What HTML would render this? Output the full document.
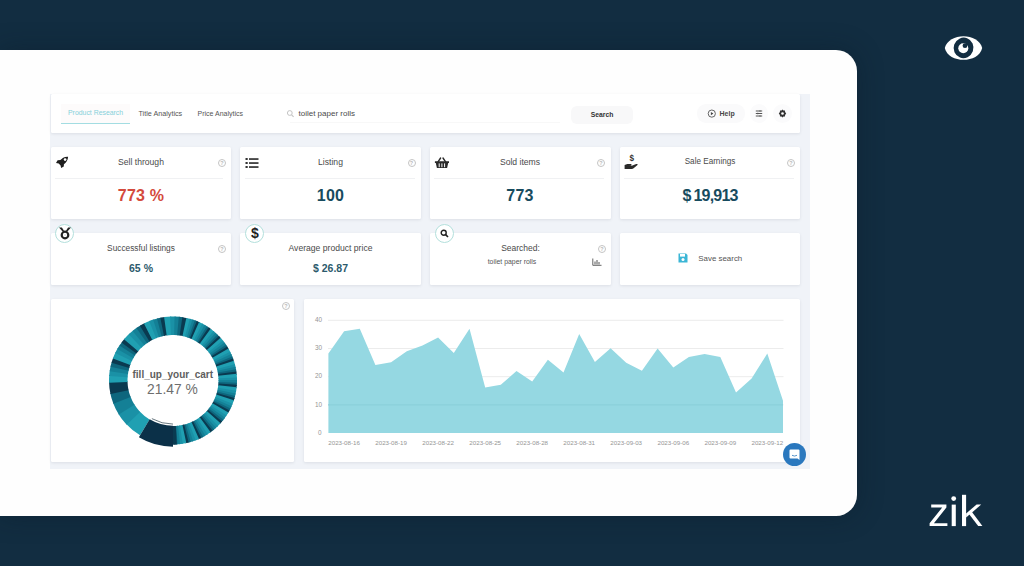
<!DOCTYPE html>
<html><head><meta charset="utf-8">
<style>
*{margin:0;padding:0;box-sizing:border-box}
html,body{width:1024px;height:566px;overflow:hidden}
body{background:#122d41;font-family:"Liberation Sans",sans-serif;position:relative}
.abs{position:absolute}
#panel{left:0;top:50px;width:857px;height:466px;background:#fefefe;border-radius:0 21px 21px 0;box-shadow:0 0 26px rgba(10,22,34,.35)}
#dash{left:50px;top:94px;width:759.5px;height:375px;background:#f0f3f8}
.card{position:absolute;background:#fff;border-radius:1.5px;box-shadow:0 1px 3px rgba(40,50,70,.10)}
.t{position:absolute;white-space:nowrap;line-height:1}
.ctr{transform:translate(-50%,-50%)}
.q{position:absolute;width:8px;height:8px;border:1px solid #c4c4c4;border-radius:50%;font-size:5.5px;color:#bbb;text-align:center;line-height:6px;font-weight:bold}
.title{font-size:8.6px;color:#4a4a4a}
.val1{font-size:16px;font-weight:bold;color:#174b5e;letter-spacing:0.2px}
.val2{font-size:10.5px;font-weight:bold;color:#2c5a6c}
.div{position:absolute;height:1px;background:#f0f1f3}
.circ{position:absolute;width:19px;height:19px;border:1px solid #b3e0dc;border-radius:50%;background:#fff}
.tab{font-size:7.2px;color:#555}
.xl{font-size:6.2px;color:#959595}
.yl{font-size:6.4px;color:#959595}
</style></head><body>
<div id="panel" class="abs"></div>
<div id="dash" class="abs"></div>

<!-- header -->
<div class="card" style="left:50.5px;top:94px;width:749.5px;height:39px"></div>
<div class="abs" style="left:61px;top:104px;width:69px;height:20px;background:#fdfbfb"></div>
<div class="abs" style="left:61px;top:122.5px;width:69px;height:1.3px;background:#a3dde2"></div>
<div class="t tab" style="left:68px;top:110px;color:#86d0da;font-size:6.9px">Product Research</div>
<div class="t tab" style="left:138.5px;top:109.5px">Title Analytics</div>
<div class="t tab" style="left:197.5px;top:109.5px;font-size:7px">Price Analytics</div>
<svg class="abs" style="left:286px;top:109px" width="9" height="9" viewBox="0 0 9 9"><circle cx="3.8" cy="4" r="2.4" fill="none" stroke="#c4c4c4" stroke-width="1"/><path d="M5.6 5.8 L7.6 7.8" stroke="#c4c4c4" stroke-width="1.2"/></svg>
<div class="t" style="left:298.5px;top:110px;font-size:8px;color:#4a4a4a">toilet paper rolls</div>
<div class="abs" style="left:290px;top:122px;width:270px;height:1px;background:#f8f8f8"></div>
<div class="abs" style="left:571px;top:105.5px;width:62px;height:18px;background:#f8f8f9;border-radius:6px"></div>
<div class="t ctr" style="left:602px;top:114.5px;font-size:6.8px;font-weight:bold;color:#333">Search</div>
<div class="abs" style="left:697px;top:104px;width:48px;height:19px;background:#fafafb;border-radius:9px"></div>
<svg class="abs" style="left:707px;top:109px" width="9" height="9" viewBox="0 0 9 9"><circle cx="4.8" cy="4.6" r="3.6" fill="none" stroke="#555" stroke-width="0.9"/><path d="M3.9 3 L6.4 4.6 L3.9 6.2Z" fill="#444"/></svg>
<div class="t" style="left:719.5px;top:110px;font-size:7px;font-weight:bold;color:#484848">Help</div>
<div class="abs" style="left:750px;top:104px;width:18px;height:19px;background:#fbfbfc;border-radius:50%"></div>
<svg class="abs" style="left:755px;top:110px" width="8" height="7" viewBox="0 0 8 7"><path d="M0.8 1H7.2M0.8 3.5H7.2M0.8 6H7.2" stroke="#555" stroke-width="1"/><path d="M5 0.2V1.8M2.8 2.7V4.3M5 5.2V6.8" stroke="#555" stroke-width="0.8"/></svg>
<div class="abs" style="left:773px;top:104px;width:19px;height:19px;background:#fbfbfc;border-radius:50%"></div>
<svg class="abs" style="left:778px;top:109px" width="9" height="9" viewBox="0 0 9 9"><path d="M4.5 0.6 L5.5 1.6 L7 1.4 L7.1 2.9 L8.2 4.5 L7.1 6.1 L7 7.6 L5.5 7.4 L4.5 8.4 L3.5 7.4 L2 7.6 L1.9 6.1 L0.8 4.5 L1.9 2.9 L2 1.4 L3.5 1.6Z" fill="#333"/><circle cx="4.5" cy="4.5" r="1.3" fill="#fff"/></svg>

<!-- row 1 cards -->
<div class="card" style="left:51px;top:147px;width:180px;height:72px"></div>
<div class="card" style="left:239.8px;top:147px;width:181.2px;height:72px"></div>
<div class="card" style="left:430px;top:147px;width:180.5px;height:72px"></div>
<div class="card" style="left:620px;top:147px;width:180px;height:72px"></div>
<div class="div" style="left:55px;top:177.5px;width:168px"></div>
<div class="div" style="left:245px;top:177.5px;width:170px"></div>
<div class="div" style="left:434px;top:177.5px;width:170px"></div>
<div class="div" style="left:624px;top:177.5px;width:170px"></div>

<div class="t title ctr" style="left:141px;top:162px">Sell through</div>
<div class="t title ctr" style="left:330.5px;top:162px">Listing</div>
<div class="t title ctr" style="left:520px;top:162px">Sold items</div>
<div class="t title ctr" style="left:710px;top:162px;font-size:8.15px">Sale Earnings</div>
<div class="t val1 ctr" style="left:141px;top:196px;color:#d44a3c">773 %</div>
<div class="t val1 ctr" style="left:330.5px;top:196px">100</div>
<div class="t val1 ctr" style="left:520px;top:196px">773</div>
<div class="t val1 ctr" style="left:710px;top:196px">$<span style="margin-left:2px;letter-spacing:-0.8px">19,913</span></div>
<div class="q" style="left:218px;top:158.5px">?</div>
<div class="q" style="left:407.5px;top:158.5px">?</div>
<div class="q" style="left:597px;top:158.5px">?</div>
<div class="q" style="left:787px;top:158.5px">?</div>

<!-- rocket -->
<svg class="abs" style="left:55px;top:155px" width="14" height="14" viewBox="0 0 14 14"><path d="M13.1 1.7 C9.6 1.4 6.9 3.2 5.4 5.1 L2.6 5.2 L1 7.9 L3.7 8.4 L5.6 10.4 L6.1 13.1 L8.8 11.6 L8.9 9.3 C11 7.8 12.9 5.3 13.1 1.7Z" fill="#1e1e1e"/><circle cx="10.1" cy="4.6" r="1.35" fill="#fff"/></svg>
<!-- list -->
<svg class="abs" style="left:244.8px;top:157px" width="14" height="12" viewBox="0 0 14 12"><rect x="0.5" y="1" width="2.2" height="2" fill="#333"/><rect x="0.5" y="5" width="2.2" height="2" fill="#333"/><rect x="0.5" y="9" width="2.2" height="2" fill="#333"/><rect x="4" y="1.2" width="9.5" height="1.7" fill="#333"/><rect x="4" y="5.2" width="9.5" height="1.7" fill="#333"/><rect x="4" y="9.2" width="9.5" height="1.7" fill="#333"/></svg>
<!-- basket -->
<svg class="abs" style="left:434px;top:155px" width="16" height="15" viewBox="0 0 16 15"><path d="M6.6 3 L4 6.8 M9 3 L11.6 6.8" fill="none" stroke="#2a2a2a" stroke-width="1.4" stroke-linecap="round"/><path d="M0.9 6.2 H15 V7.9 H14.2 L13.1 13.1 H2.9 L1.8 7.9 H0.9Z" fill="#2a2a2a"/><path d="M5.2 8.4 V12.2 M7.9 8.4 V12.2 M10.6 8.4 V12.2" stroke="#fff" stroke-width="1"/></svg>
<!-- hand dollar -->
<svg class="abs" style="left:623px;top:154px" width="16" height="16" viewBox="0 0 16 16"><text x="8.7" y="7.4" font-size="8.2" font-weight="bold" fill="#333" text-anchor="middle" font-family="Liberation Sans">$</text><path d="M1.6 11.1 L4.4 10.1 L7.8 10.1 C8.7 10.1 8.9 11.4 8 11.5 L5.8 11.6 L8.8 11.8 L13.2 10.1 C14.1 9.7 15 10.4 14.5 11 L10.6 14.2 C10.2 14.6 9.5 15 8.8 15 L1.6 15 Z" fill="#2a2a2a"/></svg>

<!-- row 2 cards -->
<div class="card" style="left:51px;top:233px;width:180px;height:52px"></div>
<div class="card" style="left:239.8px;top:233px;width:181.2px;height:52px"></div>
<div class="card" style="left:430px;top:233px;width:180.5px;height:52px"></div>
<div class="card" style="left:620px;top:233px;width:180px;height:52px"></div>
<div class="circ" style="left:55px;top:223.5px"></div>
<div class="circ" style="left:245px;top:223.5px"></div>
<div class="circ" style="left:434.5px;top:223.5px"></div>
<!-- medal -->
<svg class="abs" style="left:58px;top:226px" width="14" height="14" viewBox="0 0 14 14"><path d="M1 1.4 L3.9 1.4 L6 4.8 L4.6 5.4Z M13 1.4 L10.1 1.4 L8 4.8 L9.4 5.4Z" fill="#222"/><circle cx="7" cy="9" r="3.3" fill="none" stroke="#222" stroke-width="2.2"/><path d="M7 7.6 L7.45 8.5 L8.4 8.6 L7.7 9.25 L7.9 10.2 L7 9.75 L6.1 10.2 L6.3 9.25 L5.6 8.6 L6.55 8.5Z" fill="#e5e5e5"/></svg>
<!-- dollar -->
<div class="t ctr" style="left:255px;top:233px;font-size:14px;font-weight:bold;color:#222">$</div>
<!-- search -->
<svg class="abs" style="left:440px;top:229px" width="9" height="9" viewBox="0 0 9 9"><circle cx="3.7" cy="3.7" r="2.5" fill="none" stroke="#222" stroke-width="1.4"/><path d="M5.6 5.6 L8 8" stroke="#222" stroke-width="1.6"/></svg>

<div class="t title ctr" style="left:141px;top:248px;font-size:8.3px">Successful listings</div>
<div class="t title ctr" style="left:330.5px;top:248px">Average product price</div>
<div class="t ctr" style="left:520.5px;top:248px;font-size:8.5px;color:#4a4a4a">Searched:</div>
<div class="t ctr" style="left:512px;top:262px;font-size:6.9px;color:#555">toilet paper rolls</div>
<svg class="abs" style="left:592px;top:258px" width="10" height="8" viewBox="0 0 10 8"><path d="M0.8 0.5 V7.3 H9.5" fill="none" stroke="#555" stroke-width="0.9"/><path d="M3 6.5V3.5M5 6.5V2M7 6.5V4" stroke="#555" stroke-width="1"/></svg>
<div class="t val2 ctr" style="left:141px;top:268px">65 %</div>
<div class="t val2 ctr" style="left:330.5px;top:268px">$ 26.87</div>
<div class="q" style="left:218px;top:245px">?</div>
<div class="q" style="left:598px;top:245px">?</div>
<!-- floppy -->
<svg class="abs" style="left:677.5px;top:253.3px" width="10" height="10" viewBox="0 0 10 10"><path d="M0.5 0.5 H8 L9.5 2 V9.5 H0.5Z" fill="#3bb6d6"/><rect x="2" y="1" width="5" height="2.6" fill="#fff"/><circle cx="5" cy="6.6" r="1.5" fill="#fff"/></svg>
<div class="t ctr" style="left:720.3px;top:258.5px;font-size:7.9px;color:#555">Save search</div>

<!-- bottom row -->
<div class="card" style="left:51px;top:299px;width:243px;height:163px"></div>
<div class="card" style="left:304px;top:299px;width:496px;height:163px"></div>
<div class="q" style="left:282px;top:301.8px">?</div>

<svg class="abs" style="left:0;top:0" width="1024" height="566" viewBox="0 0 1024 566">
<g>
<line x1="328" y1="320.3" x2="783.5" y2="320.3" stroke="#ececec" stroke-width="1"/>
<line x1="328" y1="348.5" x2="783.5" y2="348.5" stroke="#ececec" stroke-width="1"/>
<line x1="328" y1="376.7" x2="783.5" y2="376.7" stroke="#ececec" stroke-width="1"/>
<line x1="328" y1="404.9" x2="783.5" y2="404.9" stroke="#ececec" stroke-width="1"/>
<path d="M328.4 433.0 L328.4 353.6 L344.1 331.3 L359.8 328.8 L375.4 365.1 L391.1 362.3 L406.8 351.3 L422.5 345.6 L438.1 337.5 L453.8 352.9 L469.5 328.8 L485.2 387.6 L500.8 384.8 L516.5 371.1 L532.2 381.6 L547.9 359.8 L563.5 372.4 L579.2 334.1 L594.9 361.9 L610.6 348.3 L626.2 362.8 L641.9 370.8 L657.6 348.6 L673.3 367.4 L688.9 357.1 L704.6 354.1 L720.3 357.1 L736.0 392.6 L751.6 378.4 L767.3 353.6 L783.0 400.7 L783.0 433.0 Z" fill="#95d8e2"/>
<line x1="328" y1="404.9" x2="783" y2="404.9" stroke="#89ced8" stroke-width="1"/>
</g>
<path d="M140.04 435.36 A64.00 64.00 0 0 1 125.90 423.83 L139.51 411.30 A45.50 45.50 0 0 0 149.57 419.50 Z" fill="#20a0b2"/>
<path d="M126.66 424.64 A64.00 64.00 0 0 1 118.26 413.66 L134.09 404.08 A45.50 45.50 0 0 0 140.06 411.88 Z" fill="#1a91a6"/>
<path d="M118.85 414.61 A64.00 64.00 0 0 1 113.01 402.79 L130.35 396.35 A45.50 45.50 0 0 0 134.50 404.75 Z" fill="#148096"/>
<path d="M113.40 403.83 A64.00 64.00 0 0 1 110.23 393.00 L128.38 389.38 A45.50 45.50 0 0 0 130.63 397.09 Z" fill="#0e667d"/>
<path d="M110.46 394.09 A64.00 64.00 0 0 1 109.01 381.62 L127.51 381.29 A45.50 45.50 0 0 0 128.54 390.16 Z" fill="#0a3a50"/>
<path d="M109.04 382.73 A64.00 64.00 0 0 1 109.24 374.99 L127.67 376.58 A45.50 45.50 0 0 0 127.53 382.09 Z" fill="#20a0b2"/>
<path d="M109.15 376.10 A64.00 64.00 0 0 1 109.85 370.11 L128.10 373.12 A45.50 45.50 0 0 0 127.61 377.37 Z" fill="#1a91a6"/>
<path d="M109.68 371.22 A64.00 64.00 0 0 1 110.77 365.54 L128.76 369.86 A45.50 45.50 0 0 0 127.98 373.90 Z" fill="#148096"/>
<path d="M110.52 366.63 A64.00 64.00 0 0 1 111.81 361.75 L129.50 367.17 A45.50 45.50 0 0 0 128.58 370.64 Z" fill="#0e667d"/>
<path d="M111.49 362.82 A64.00 64.00 0 0 1 113.25 357.56 L130.52 364.19 A45.50 45.50 0 0 0 129.27 367.93 Z" fill="#0a3a50"/>
<path d="M112.86 358.61 A64.00 64.00 0 0 1 115.67 352.04 L132.25 360.27 A45.50 45.50 0 0 0 130.24 364.94 Z" fill="#20a0b2"/>
<path d="M115.19 353.05 A64.00 64.00 0 0 1 117.80 348.11 L133.76 357.48 A45.50 45.50 0 0 0 131.90 360.98 Z" fill="#1a91a6"/>
<path d="M117.24 349.08 A64.00 64.00 0 0 1 120.07 344.53 L135.37 354.93 A45.50 45.50 0 0 0 133.36 358.16 Z" fill="#148096"/>
<path d="M119.45 345.46 A64.00 64.00 0 0 1 122.16 341.63 L136.85 352.86 A45.50 45.50 0 0 0 134.93 355.59 Z" fill="#0e667d"/>
<path d="M121.49 342.52 A64.00 64.00 0 0 1 124.70 338.51 L138.66 350.65 A45.50 45.50 0 0 0 136.38 353.50 Z" fill="#0a3a50"/>
<path d="M123.97 339.36 A64.00 64.00 0 0 1 129.52 333.53 L142.09 347.11 A45.50 45.50 0 0 0 138.14 351.25 Z" fill="#20a0b2"/>
<path d="M128.71 334.30 A64.00 64.00 0 0 1 133.43 330.20 L144.87 344.74 A45.50 45.50 0 0 0 141.51 347.65 Z" fill="#1a91a6"/>
<path d="M132.56 330.90 A64.00 64.00 0 0 1 137.38 327.33 L147.68 342.70 A45.50 45.50 0 0 0 144.25 345.24 Z" fill="#148096"/>
<path d="M136.46 327.96 A64.00 64.00 0 0 1 140.86 325.15 L150.15 341.15 A45.50 45.50 0 0 0 147.02 343.15 Z" fill="#0e667d"/>
<path d="M139.90 325.72 A64.00 64.00 0 0 1 144.94 322.98 L153.05 339.60 A45.50 45.50 0 0 0 149.47 341.56 Z" fill="#0a3a50"/>
<path d="M143.94 323.48 A64.00 64.00 0 0 1 150.20 320.70 L156.79 337.99 A45.50 45.50 0 0 0 152.34 339.96 Z" fill="#20a0b2"/>
<path d="M149.16 321.11 A64.00 64.00 0 0 1 154.21 319.32 L159.64 337.00 A45.50 45.50 0 0 0 156.05 338.27 Z" fill="#1a91a6"/>
<path d="M153.15 319.66 A64.00 64.00 0 0 1 158.10 318.26 L162.41 336.25 A45.50 45.50 0 0 0 158.89 337.24 Z" fill="#148096"/>
<path d="M157.02 318.53 A64.00 64.00 0 0 1 161.42 317.56 L164.77 335.75 A45.50 45.50 0 0 0 161.64 336.44 Z" fill="#0e667d"/>
<path d="M160.33 317.77 A64.00 64.00 0 0 1 165.20 316.98 L167.45 335.34 A45.50 45.50 0 0 0 163.99 335.90 Z" fill="#0a3a50"/>
<path d="M164.09 317.12 A64.00 64.00 0 0 1 171.21 316.52 L171.73 335.02 A45.50 45.50 0 0 0 166.67 335.44 Z" fill="#20a0b2"/>
<path d="M170.10 316.57 A64.00 64.00 0 0 1 175.68 316.56 L174.91 335.04 A45.50 45.50 0 0 0 170.94 335.05 Z" fill="#1a91a6"/>
<path d="M174.56 316.52 A64.00 64.00 0 0 1 179.91 316.87 L177.91 335.27 A45.50 45.50 0 0 0 174.11 335.01 Z" fill="#148096"/>
<path d="M178.80 316.76 A64.00 64.00 0 0 1 183.45 317.36 L180.43 335.61 A45.50 45.50 0 0 0 177.12 335.19 Z" fill="#0e667d"/>
<path d="M182.35 317.19 A64.00 64.00 0 0 1 187.40 318.14 L183.24 336.17 A45.50 45.50 0 0 0 179.65 335.49 Z" fill="#0a3a50"/>
<path d="M186.31 317.90 A64.00 64.00 0 0 1 190.90 319.05 L185.72 336.82 A45.50 45.50 0 0 0 182.46 335.99 Z" fill="#20a0b2"/>
<path d="M189.82 318.75 A64.00 64.00 0 0 1 193.46 319.86 L187.54 337.39 A45.50 45.50 0 0 0 184.96 336.60 Z" fill="#1a91a6"/>
<path d="M192.39 319.51 A64.00 64.00 0 0 1 195.85 320.72 L189.25 338.00 A45.50 45.50 0 0 0 186.79 337.14 Z" fill="#148096"/>
<path d="M194.81 320.33 A64.00 64.00 0 0 1 197.84 321.52 L190.66 338.57 A45.50 45.50 0 0 0 188.50 337.72 Z" fill="#0e667d"/>
<path d="M196.81 321.09 A64.00 64.00 0 0 1 200.05 322.50 L192.23 339.26 A45.50 45.50 0 0 0 189.93 338.27 Z" fill="#0a3a50"/>
<path d="M199.03 322.03 A64.00 64.00 0 0 1 203.28 324.12 L194.53 340.42 A45.50 45.50 0 0 0 191.51 338.93 Z" fill="#20a0b2"/>
<path d="M202.29 323.60 A64.00 64.00 0 0 1 205.62 325.44 L196.19 341.35 A45.50 45.50 0 0 0 193.83 340.05 Z" fill="#1a91a6"/>
<path d="M204.65 324.87 A64.00 64.00 0 0 1 207.78 326.78 L197.73 342.31 A45.50 45.50 0 0 0 195.50 340.95 Z" fill="#148096"/>
<path d="M206.84 326.18 A64.00 64.00 0 0 1 209.56 327.97 L198.99 343.16 A45.50 45.50 0 0 0 197.06 341.88 Z" fill="#0e667d"/>
<path d="M208.64 327.34 A64.00 64.00 0 0 1 211.52 329.39 L200.38 344.16 A45.50 45.50 0 0 0 198.34 342.71 Z" fill="#0a3a50"/>
<path d="M210.62 328.72 A64.00 64.00 0 0 1 214.34 331.65 L202.39 345.77 A45.50 45.50 0 0 0 199.74 343.69 Z" fill="#20a0b2"/>
<path d="M213.48 330.93 A64.00 64.00 0 0 1 216.35 333.42 L203.82 347.03 A45.50 45.50 0 0 0 201.78 345.26 Z" fill="#1a91a6"/>
<path d="M215.52 332.67 A64.00 64.00 0 0 1 218.19 335.18 L205.13 348.28 A45.50 45.50 0 0 0 203.23 346.50 Z" fill="#148096"/>
<path d="M217.39 334.40 A64.00 64.00 0 0 1 219.68 336.72 L206.19 349.38 A45.50 45.50 0 0 0 204.56 347.73 Z" fill="#0e667d"/>
<path d="M218.91 335.91 A64.00 64.00 0 0 1 221.30 338.51 L207.34 350.65 A45.50 45.50 0 0 0 205.64 348.80 Z" fill="#0a3a50"/>
<path d="M220.56 337.68 A64.00 64.00 0 0 1 223.60 341.31 L208.97 352.64 A45.50 45.50 0 0 0 206.81 350.05 Z" fill="#20a0b2"/>
<path d="M222.91 340.43 A64.00 64.00 0 0 1 225.19 343.46 L210.11 354.17 A45.50 45.50 0 0 0 208.48 352.01 Z" fill="#1a91a6"/>
<path d="M224.54 342.56 A64.00 64.00 0 0 1 226.63 345.57 L211.12 355.67 A45.50 45.50 0 0 0 209.64 353.53 Z" fill="#148096"/>
<path d="M226.01 344.64 A64.00 64.00 0 0 1 227.77 347.38 L211.94 356.96 A45.50 45.50 0 0 0 210.69 355.00 Z" fill="#0e667d"/>
<path d="M227.18 346.43 A64.00 64.00 0 0 1 228.98 349.47 L212.80 358.44 A45.50 45.50 0 0 0 211.52 356.28 Z" fill="#0a3a50"/>
<path d="M228.43 348.50 A64.00 64.00 0 0 1 230.64 352.69 L213.98 360.73 A45.50 45.50 0 0 0 212.40 357.75 Z" fill="#20a0b2"/>
<path d="M230.15 351.68 A64.00 64.00 0 0 1 231.75 355.12 L214.77 362.46 A45.50 45.50 0 0 0 213.63 360.01 Z" fill="#1a91a6"/>
<path d="M231.30 354.10 A64.00 64.00 0 0 1 232.72 357.48 L215.46 364.13 A45.50 45.50 0 0 0 214.45 361.73 Z" fill="#148096"/>
<path d="M232.31 356.44 A64.00 64.00 0 0 1 233.45 359.49 L215.98 365.57 A45.50 45.50 0 0 0 215.16 363.40 Z" fill="#0e667d"/>
<path d="M233.08 358.44 A64.00 64.00 0 0 1 234.20 361.79 L216.51 367.20 A45.50 45.50 0 0 0 215.71 364.82 Z" fill="#0a3a50"/>
<path d="M233.87 360.72 A64.00 64.00 0 0 1 235.16 365.28 L217.19 369.68 A45.50 45.50 0 0 0 216.27 366.44 Z" fill="#20a0b2"/>
<path d="M234.89 364.19 A64.00 64.00 0 0 1 235.75 367.89 L217.61 371.54 A45.50 45.50 0 0 0 217.00 368.91 Z" fill="#1a91a6"/>
<path d="M235.52 366.80 A64.00 64.00 0 0 1 236.20 370.40 L217.93 373.32 A45.50 45.50 0 0 0 217.45 370.76 Z" fill="#148096"/>
<path d="M236.01 369.30 A64.00 64.00 0 0 1 236.50 372.52 L218.15 374.83 A45.50 45.50 0 0 0 217.80 372.54 Z" fill="#0e667d"/>
<path d="M236.35 371.42 A64.00 64.00 0 0 1 236.76 374.92 L218.33 376.53 A45.50 45.50 0 0 0 218.04 374.04 Z" fill="#0a3a50"/>
<path d="M236.65 373.81 A64.00 64.00 0 0 1 236.97 378.53 L218.48 379.10 A45.50 45.50 0 0 0 218.25 375.74 Z" fill="#20a0b2"/>
<path d="M236.93 377.42 A64.00 64.00 0 0 1 237.00 381.21 L218.50 381.01 A45.50 45.50 0 0 0 218.45 378.31 Z" fill="#1a91a6"/>
<path d="M237.00 380.10 A64.00 64.00 0 0 1 236.92 383.76 L218.44 382.82 A45.50 45.50 0 0 0 218.50 380.21 Z" fill="#148096"/>
<path d="M236.96 382.64 A64.00 64.00 0 0 1 236.77 385.90 L218.34 384.34 A45.50 45.50 0 0 0 218.47 382.02 Z" fill="#0e667d"/>
<path d="M236.86 384.79 A64.00 64.00 0 0 1 236.52 388.30 L218.16 386.05 A45.50 45.50 0 0 0 218.40 383.55 Z" fill="#0a3a50"/>
<path d="M236.65 387.19 A64.00 64.00 0 0 1 235.98 391.88 L217.78 388.59 A45.50 45.50 0 0 0 218.25 385.26 Z" fill="#20a0b2"/>
<path d="M236.17 390.78 A64.00 64.00 0 0 1 235.45 394.50 L217.40 390.46 A45.50 45.50 0 0 0 217.91 387.81 Z" fill="#1a91a6"/>
<path d="M235.68 393.41 A64.00 64.00 0 0 1 234.84 396.98 L216.97 392.21 A45.50 45.50 0 0 0 217.56 389.68 Z" fill="#148096"/>
<path d="M235.12 395.90 A64.00 64.00 0 0 1 234.26 399.04 L216.55 393.68 A45.50 45.50 0 0 0 217.16 391.45 Z" fill="#0e667d"/>
<path d="M234.57 397.97 A64.00 64.00 0 0 1 233.51 401.34 L216.02 395.31 A45.50 45.50 0 0 0 216.77 392.92 Z" fill="#0a3a50"/>
<path d="M233.87 400.28 A64.00 64.00 0 0 1 232.24 404.72 L215.12 397.72 A45.50 45.50 0 0 0 216.27 394.56 Z" fill="#20a0b2"/>
<path d="M232.65 403.69 A64.00 64.00 0 0 1 231.17 407.18 L214.36 399.47 A45.50 45.50 0 0 0 215.41 396.98 Z" fill="#1a91a6"/>
<path d="M231.63 406.16 A64.00 64.00 0 0 1 230.06 409.48 L213.57 401.10 A45.50 45.50 0 0 0 214.68 398.74 Z" fill="#148096"/>
<path d="M230.56 408.48 A64.00 64.00 0 0 1 229.06 411.37 L212.86 402.45 A45.50 45.50 0 0 0 213.92 400.39 Z" fill="#0e667d"/>
<path d="M229.59 410.39 A64.00 64.00 0 0 1 227.86 413.46 L212.00 403.93 A45.50 45.50 0 0 0 213.23 401.75 Z" fill="#0a3a50"/>
<path d="M228.43 412.50 A64.00 64.00 0 0 1 225.91 416.51 L210.61 406.10 A45.50 45.50 0 0 0 212.40 403.25 Z" fill="#20a0b2"/>
<path d="M226.53 415.58 A64.00 64.00 0 0 1 224.35 418.69 L209.51 407.65 A45.50 45.50 0 0 0 211.06 405.44 Z" fill="#1a91a6"/>
<path d="M225.01 417.79 A64.00 64.00 0 0 1 222.79 420.71 L208.40 409.08 A45.50 45.50 0 0 0 209.98 407.01 Z" fill="#148096"/>
<path d="M223.49 419.83 A64.00 64.00 0 0 1 221.42 422.35 L207.42 410.25 A45.50 45.50 0 0 0 208.89 408.46 Z" fill="#0e667d"/>
<path d="M222.14 421.50 A64.00 64.00 0 0 1 219.81 424.15 L206.28 411.53 A45.50 45.50 0 0 0 207.94 409.65 Z" fill="#0a3a50"/>
<path d="M220.56 423.32 A64.00 64.00 0 0 1 217.26 426.72 L204.47 413.36 A45.50 45.50 0 0 0 206.81 410.95 Z" fill="#20a0b2"/>
<path d="M218.06 425.94 A64.00 64.00 0 0 1 215.29 428.54 L203.07 414.65 A45.50 45.50 0 0 0 205.04 412.81 Z" fill="#1a91a6"/>
<path d="M216.12 427.79 A64.00 64.00 0 0 1 213.35 430.18 L201.68 415.82 A45.50 45.50 0 0 0 203.66 414.12 Z" fill="#148096"/>
<path d="M214.21 429.47 A64.00 64.00 0 0 1 211.66 431.50 L200.48 416.76 A45.50 45.50 0 0 0 202.30 415.31 Z" fill="#0e667d"/>
<path d="M212.54 430.82 A64.00 64.00 0 0 1 209.71 432.93 L199.10 417.77 A45.50 45.50 0 0 0 201.11 416.28 Z" fill="#0a3a50"/>
<path d="M210.62 432.28 A64.00 64.00 0 0 1 206.69 434.92 L196.95 419.19 A45.50 45.50 0 0 0 199.74 417.31 Z" fill="#20a0b2"/>
<path d="M207.63 434.32 A64.00 64.00 0 0 1 204.38 436.28 L195.31 420.16 A45.50 45.50 0 0 0 197.62 418.76 Z" fill="#1a91a6"/>
<path d="M205.35 435.72 A64.00 64.00 0 0 1 202.13 437.48 L193.71 421.01 A45.50 45.50 0 0 0 196.00 419.76 Z" fill="#148096"/>
<path d="M203.13 436.97 A64.00 64.00 0 0 1 200.21 438.43 L192.34 421.68 A45.50 45.50 0 0 0 194.42 420.64 Z" fill="#0e667d"/>
<path d="M201.22 437.94 A64.00 64.00 0 0 1 198.01 439.41 L190.78 422.38 A45.50 45.50 0 0 0 193.06 421.34 Z" fill="#0a3a50"/>
<path d="M199.03 438.97 A64.00 64.00 0 0 1 194.64 440.73 L188.38 423.32 A45.50 45.50 0 0 0 191.51 422.07 Z" fill="#20a0b2"/>
<path d="M195.69 440.34 A64.00 64.00 0 0 1 192.10 441.58 L186.58 423.93 A45.50 45.50 0 0 0 189.13 423.05 Z" fill="#1a91a6"/>
<path d="M193.16 441.24 A64.00 64.00 0 0 1 189.65 442.30 L184.84 424.43 A45.50 45.50 0 0 0 187.33 423.68 Z" fill="#148096"/>
<path d="M190.73 442.00 A64.00 64.00 0 0 1 187.57 442.82 L183.36 424.81 A45.50 45.50 0 0 0 185.60 424.22 Z" fill="#0e667d"/>
<path d="M188.66 442.56 A64.00 64.00 0 0 1 185.21 443.32 L181.68 425.16 A45.50 45.50 0 0 0 184.13 424.62 Z" fill="#0a3a50"/>
<path d="M186.31 443.10 A64.00 64.00 0 0 1 181.64 443.91 L179.14 425.58 A45.50 45.50 0 0 0 182.46 425.01 Z" fill="#20a0b2"/>
<path d="M182.75 443.75 A64.00 64.00 0 0 1 178.98 444.22 L177.25 425.80 A45.50 45.50 0 0 0 179.93 425.47 Z" fill="#1a91a6"/>
<path d="M180.09 444.11 A64.00 64.00 0 0 1 176.44 444.41 L175.44 425.93 A45.50 45.50 0 0 0 178.04 425.72 Z" fill="#148096"/>
<path d="M177.55 444.34 A64.00 64.00 0 0 1 174.30 444.49 L173.92 425.99 A45.50 45.50 0 0 0 176.24 425.88 Z" fill="#0e667d"/>
<path d="M175.41 444.45 A64.00 64.00 0 0 1 171.88 444.49 L172.21 425.99 A45.50 45.50 0 0 0 174.71 425.97 Z" fill="#0a3a50"/>
<path d="M176.91 444.38 A64.00 64.00 0 0 1 171.88 444.49 L172.21 425.99 A45.50 45.50 0 0 0 175.78 425.92 Z" fill="#0a3a50"/>
<path d="M173.00 446.70 A66.20 66.20 0 0 1 138.90 437.24 L149.67 419.33 A45.30 45.30 0 0 0 173.00 425.80 Z" fill="#0b3048"/>
<path d="M173.00 424.10 A43.6 43.6 0 0 1 151.86 418.63" fill="none" stroke="#5a6a72" stroke-width="0.9"/>
</svg>
<div class="t ctr" style="left:172.8px;top:375.3px;font-size:10px;font-weight:bold;color:#5e5e5e">fill_up_your_cart</div>
<div class="t ctr" style="left:172.4px;top:390.3px;font-size:13.8px;color:#6e6e6e">21.47 %</div>

<div class="t yl" style="left:315px;top:317px">40</div>
<div class="t yl" style="left:315px;top:345px">30</div>
<div class="t yl" style="left:315px;top:373px">20</div>
<div class="t yl" style="left:315px;top:401.5px">10</div>
<div class="t yl" style="left:318px;top:429.5px">0</div>
<div class="t xl ctr" style="left:344.1px;top:442.5px">2023-08-16</div>
<div class="t xl ctr" style="left:391.1px;top:442.5px">2023-08-19</div>
<div class="t xl ctr" style="left:438.1px;top:442.5px">2023-08-22</div>
<div class="t xl ctr" style="left:485.2px;top:442.5px">2023-08-25</div>
<div class="t xl ctr" style="left:532.2px;top:442.5px">2023-08-28</div>
<div class="t xl ctr" style="left:579.2px;top:442.5px">2023-08-31</div>
<div class="t xl ctr" style="left:626.2px;top:442.5px">2023-09-03</div>
<div class="t xl ctr" style="left:673.3px;top:442.5px">2023-09-06</div>
<div class="t xl ctr" style="left:720.3px;top:442.5px">2023-09-09</div>
<div class="t xl ctr" style="left:767.3px;top:442.5px">2023-09-12</div>

<!-- chat button -->
<div class="abs" style="left:783px;top:443px;width:23px;height:23px;border-radius:50%;background:#2a78be"></div>
<svg class="abs" style="left:789px;top:448.5px" width="11" height="12" viewBox="0 0 11 12"><path d="M1.5 0.5 H9.5 Q10.5 0.5 10.5 1.5 V11 L8.5 9.5 H1.5 Q0.5 9.5 0.5 8.5 V1.5 Q0.5 0.5 1.5 0.5Z" fill="#fff"/><path d="M3 6.3 Q5.5 7.8 8 6.3" fill="none" stroke="#2a78be" stroke-width="0.8"/></svg>

<!-- eye -->
<svg class="abs" style="left:940px;top:30px" width="48" height="36" viewBox="940 30 48 36">
<path d="M944.8 48 C948.5 32.2 978.5 32.2 982.2 48 C978.5 63.8 948.5 63.8 944.8 48Z" fill="#fff"/>
<ellipse cx="963.5" cy="47.9" rx="9.9" ry="10.3" fill="#122d41" transform="rotate(20 963.5 48)"/>
<circle cx="963.3" cy="48.2" r="5" fill="#fff"/>
<circle cx="965" cy="45.7" r="2.4" fill="#122d41"/>
</svg>
<!-- zik -->
<svg class="abs" style="left:920px;top:485px" width="70" height="50" viewBox="920 485 70 50">
<path d="M931.2 504.6 H946.4 V507.5 L933.9 523.2 H947.4 V526.1 H929.6 V523.3 L942.2 507.5 H931.2Z" fill="#fff"/>
<circle cx="953.7" cy="498.6" r="2.4" fill="#fff"/>
<rect x="951.7" y="504.6" width="4.1" height="21.5" fill="#fff"/>
<rect x="962" y="494.8" width="4.1" height="31.3" fill="#fff"/>
<path d="M976.6 504.6 H981.2 L966.1 517.6 V513.4Z" fill="#fff"/>
<path d="M968.6 513.6 L971.6 511.4 L982.4 526.1 H978.2Z" fill="#fff"/>
</svg>
</body></html>
